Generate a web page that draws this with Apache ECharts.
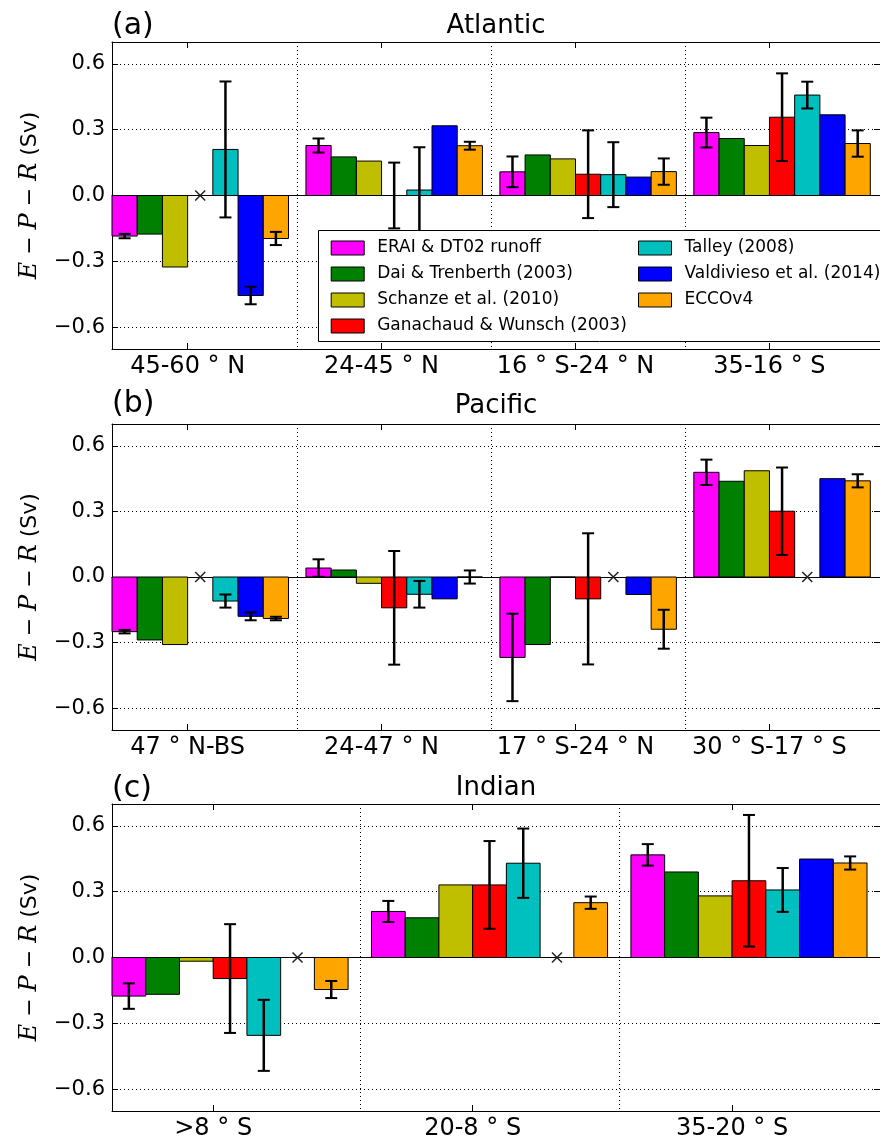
<!DOCTYPE html>
<html>
<head>
<meta charset="utf-8">
<script src="https://cdn.jsdelivr.net/npm/echarts@6/dist/echarts.min.js"></script>
<style>
html, body { margin: 0; padding: 0; background: #fff; }
#chart { width: 880px; height: 1142px; }
</style>
</head>
<body>
<div id="chart"></div>
<script>
// 数据来源（图例）
var sources = ['ERAI & DT02 runoff', 'Dai & Trenberth (2003)', 'Schanze et al. (2010)',
  'Ganachaud & Wunsch (2003)', 'Talley (2008)', 'Valdivieso et al. (2014)', 'ECCOv4'];
var colors = ['#ff00ff', '#008000', '#bfbf00', '#ff0000', '#00bfbf', '#0000ff', '#ffa500'];

// 纬度带
var atlCats = ['45-60 ° N', '24-45 ° N', '16 ° S-24 ° N', '35-16 ° S'];
var pacCats = ['47 ° N-BS', '24-47 ° N', '17 ° S-24 ° N', '30 ° S-17 ° S'];
var indCats = ['>8 ° S', '20-8 ° S', '35-20 ° S'];

// E-P-R (Sv)，每行一个数据来源，null = 无数据（画 x）
var atlValues = [
  [-0.185, 0.228, 0.108, 0.287],
  [-0.176, 0.176, 0.185, 0.26],
  [-0.326, 0.157, 0.167, 0.228],
  [null, 0.0, 0.097, 0.357],
  [0.21, 0.025, 0.095, 0.458],
  [-0.456, 0.318, 0.084, 0.368],
  [-0.196, 0.227, 0.109, 0.237]
];
var atlErrors = [
  [0.01, 0.032, 0.07, 0.068],
  [null, null, null, null],
  [null, null, null, null],
  [null, 0.15, 0.2, 0.2],
  [0.31, 0.195, 0.148, 0.061],
  [0.04, null, null, null],
  [0.03, 0.018, 0.06, 0.06]
];
var pacValues = [
  [-0.25, 0.041, -0.368, 0.479],
  [-0.288, 0.032, -0.309, 0.438],
  [-0.309, -0.029, 0, 0.486],
  [null, -0.141, -0.1, 0.301],
  [-0.11, -0.079, null, null],
  [-0.18, -0.1, -0.08, 0.45],
  [-0.19, 0, -0.239, 0.44]
];
var pacErrors = [
  [0.008, 0.04, 0.2, 0.058],
  [null, null, null, null],
  [null, null, null, null],
  [null, 0.26, 0.3, 0.2],
  [0.03, 0.061, null, null],
  [0.018, null, null, null],
  [0.008, 0.03, 0.089, 0.03]
];
var indValues = [
  [-0.176, 0.21, 0.468],
  [-0.168, 0.181, 0.39],
  [-0.017, 0.331, 0.281],
  [-0.096, 0.331, 0.35],
  [-0.355, 0.43, 0.308],
  [null, null, 0.449],
  [-0.146, 0.25, 0.431]
];
var indErrors = [
  [0.058, 0.048, 0.049],
  [null, null, null],
  [null, null, null],
  [0.248, 0.2, 0.3],
  [0.162, 0.158, 0.1],
  [null, null, null],
  [0.039, 0.028, 0.03]
];

var yTicks = [-0.6, -0.3, 0, 0.3, 0.6];

var panels = [
  { cats: atlCats, values: atlValues, errors: atlErrors, title: 'Atlantic', tag: '(a)', top: 42, height: 307, titleY: 26, tagY: 26 },
  { cats: pacCats, values: pacValues, errors: pacErrors, title: 'Pacific', tag: '(b)', top: 424, height: 306, titleY: 406, tagY: 404 },
  { cats: indCats, values: indValues, errors: indErrors, title: 'Indian', tag: '(c)', top: 804, height: 307, titleY: 788, tagY: 789 }
];

var barW = 0.13;      // 每根柱宽
var tickOff = 0.39;   // 刻度位于第4根柱左边
var sepOff = 0.955;   // 组间虚线

var chart = echarts.init(document.getElementById('chart'));

function fmtY(v) {
  return v < 0 ? '\u2212' + (-v).toFixed(1) : v.toFixed(1);
}

function makeRender(j) {
  return function (params, api) {
    var g = api.value(0), v = api.value(1), e = api.value(2), miss = api.value(3);
    var x0 = g + j * barW;
    var xc = x0 + barW / 2;
    var kids = [];
    if (miss) {
      var c = api.coord([xc, 0]);
      var s = 5;
      kids.push({ type: 'line', shape: { x1: c[0] - s, y1: c[1] - s, x2: c[0] + s, y2: c[1] + s }, style: { stroke: '#222', lineWidth: 1.5 } });
      kids.push({ type: 'line', shape: { x1: c[0] - s, y1: c[1] + s, x2: c[0] + s, y2: c[1] - s }, style: { stroke: '#222', lineWidth: 1.5 } });
      return { type: 'group', children: kids };
    }
    var p0 = api.coord([x0, 0]);
    var p1 = api.coord([x0 + barW, v]);
    kids.push({
      type: 'rect',
      shape: { x: p0[0], y: Math.min(p0[1], p1[1]), width: p1[0] - p0[0], height: Math.abs(p1[1] - p0[1]) },
      style: { fill: colors[j], stroke: '#000', lineWidth: 1 }
    });
    if (e > 0) {
      var hi = api.coord([xc, v + e]);
      var lo = api.coord([xc, v - e]);
      kids.push({ type: 'line', shape: { x1: hi[0], y1: hi[1], x2: lo[0], y2: lo[1] }, style: { stroke: '#000', lineWidth: 2.5 } });
      kids.push({ type: 'line', shape: { x1: hi[0] - 6, y1: hi[1], x2: hi[0] + 6, y2: hi[1] }, style: { stroke: '#000', lineWidth: 2 } });
      kids.push({ type: 'line', shape: { x1: lo[0] - 6, y1: lo[1], x2: lo[0] + 6, y2: lo[1] }, style: { stroke: '#000', lineWidth: 2 } });
    }
    return { type: 'group', children: kids };
  };
}

var grids = [], xAxes = [], yAxes = [], series = [], graphics = [];

panels.forEach(function (pn, p) {
  var n = pn.cats.length;
  var xMax = n - 0.04;
  var ticks = [], seps = [];
  for (var i = 0; i < n; i++) {
    ticks.push(i + tickOff);
    if (i < n - 1) seps.push(i + sepOff);
  }
  grids.push({ left: 112, width: 768, top: pn.top, height: pn.height });

  // 下方标签轴
  xAxes.push({
    type: 'value', gridIndex: p, min: 0, max: xMax, position: 'bottom',
    axisLine: { onZero: false, lineStyle: { color: '#000', width: 1 } },
    axisTick: { inside: true, length: 6, customValues: ticks, lineStyle: { color: '#000' } },
    axisLabel: {
      customValues: ticks, color: '#000', fontSize: 24, margin: 6,
      formatter: (function (cats) { return function (v) { return cats[Math.round(v - tickOff)]; }; })(pn.cats)
    },
    splitLine: { show: false }
  });
  // 顶部边框 + 刻度
  xAxes.push({
    type: 'value', gridIndex: p, min: 0, max: xMax, position: 'top',
    axisLine: { onZero: false, lineStyle: { color: '#000', width: 1 } },
    axisTick: { inside: true, length: 6, customValues: ticks, lineStyle: { color: '#000' } },
    axisLabel: { show: false },
    splitLine: { show: false }
  });
  // 零线 + 分组虚线
  xAxes.push({
    type: 'value', gridIndex: p, min: 0, max: xMax, position: 'bottom',
    axisLine: { onZero: true, lineStyle: { color: '#000', width: 1 } },
    axisTick: { show: false, customValues: seps },
    axisLabel: { show: false },
    splitLine: { show: true, lineStyle: { color: '#000', width: 1, type: [1, 3] } }
  });

  yAxes.push({
    type: 'value', gridIndex: p, min: -0.7, max: 0.7, position: 'left',
    axisLine: { show: true, onZero: false, lineStyle: { color: '#000', width: 1 } },
    axisTick: { show: true, inside: true, length: 6, customValues: yTicks, lineStyle: { color: '#000' } },
    axisLabel: { customValues: yTicks, formatter: fmtY, color: '#000', fontSize: 21, margin: 7 },
    splitLine: { show: true, lineStyle: { color: '#000', width: 1, type: [1, 3] } },
    name: '{i|E}{n| \u2212 }{i|P}{n| \u2212 }{i|R}{n| (Sv)}',
    nameLocation: 'middle', nameRotate: 90, nameGap: 70,
    nameTextStyle: {
      rich: {
        i: { fontFamily: 'DejaVu Serif', fontStyle: 'italic', fontSize: 24, color: '#000' },
        n: { fontFamily: 'DejaVu Sans', fontSize: 22, color: '#000' }
      }
    }
  });
  yAxes.push({
    type: 'value', gridIndex: p, min: -0.7, max: 0.7, position: 'right',
    axisLine: { show: true, onZero: false, lineStyle: { color: '#000', width: 1 } },
    axisTick: { show: true, inside: true, length: 6, customValues: yTicks, lineStyle: { color: '#000' } },
    axisLabel: { show: false },
    splitLine: { show: false }
  });

  for (var j = 0; j < 7; j++) {
    var data = [];
    for (var g = 0; g < n; g++) {
      var v = pn.values[j][g], e = pn.errors[j][g];
      data.push([g, v === null ? 0 : v, e === null ? 0 : e, v === null ? 1 : 0]);
    }
    series.push({
      type: 'custom', name: sources[j],
      xAxisIndex: p * 3, yAxisIndex: p * 2,
      itemStyle: { color: colors[j] },
      renderItem: makeRender(j),
      data: data, z: 3
    });
  }

  graphics.push({
    type: 'text', x: 496, y: pn.titleY, z: 10,
    style: { text: pn.title, font: '26px "DejaVu Sans"', fill: '#000', textAlign: 'center', textVerticalAlign: 'middle' }
  });
  graphics.push({
    type: 'text', x: 112, y: pn.tagY, z: 10,
    style: { text: pn.tag, font: '30px "DejaVu Sans"', fill: '#000', textAlign: 'left', textVerticalAlign: 'middle' }
  });
});

// 图例框
graphics.push({
  type: 'rect', z: 50,
  shape: { x: 318.5, y: 230.5, width: 562, height: 111 },
  style: { fill: '#fff', stroke: '#000', lineWidth: 1 }
});

var legendBase = {
  orient: 'vertical', icon: 'rect', itemWidth: 33, itemHeight: 14, itemGap: 9,
  top: 234.5, z: 60,
  itemStyle: { borderColor: '#000', borderWidth: 1 },
  textStyle: { fontSize: 17, color: '#000', lineHeight: 14, padding: [0, 0, 0, 8] },
  selectedMode: false
};

var option = {
  animation: false,
  backgroundColor: '#fff',
  textStyle: { fontFamily: 'DejaVu Sans' },
  grid: grids,
  xAxis: xAxes,
  yAxis: yAxes,
  legend: [
    Object.assign({}, legendBase, { left: 325.7, data: sources.slice(0, 4) }),
    Object.assign({}, legendBase, { left: 633, data: sources.slice(4) })
  ],
  graphic: graphics,
  series: series
};

chart.setOption(option);
</script>
</body>
</html>
